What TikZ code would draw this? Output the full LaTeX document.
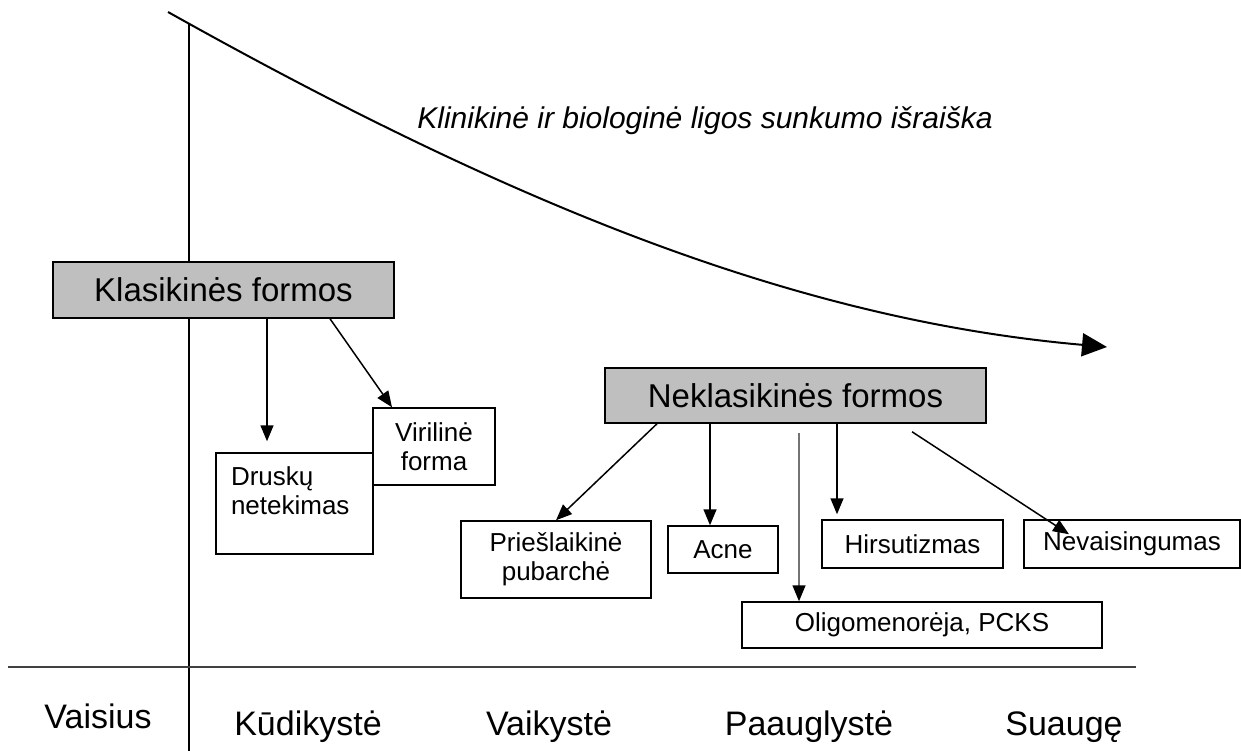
\documentclass[tikz,border=0pt]{standalone}
\usepackage{fontspec}
\setmainfont{Liberation Sans}
\usetikzlibrary{arrows.meta,positioning,calc}

\begin{document}
\begin{tikzpicture}[x=1pt,y=-1pt,
        box/.style={draw, line width=1.5pt, inner sep=0pt, align=center, font=\fontsize{26}{29}\selectfont},
        formbox/.style={draw, line width=1.5pt, fill=gray!50, inner sep=0pt, font=\fontsize{33}{38}\selectfont},
        arr/.style={-{Triangle[length=16pt,width=13pt]}, line width=1.5pt},
        age/.style={anchor=base, font=\fontsize{34}{40}\selectfont}]
        \useasboundingbox (0,0) rectangle (1241,751);

        % Axes
        \draw[line width=1.5pt] (189,23) -- (189,751);
        \draw[line width=2.5pt, black!75] (8,667) -- (1136,667);

        % Severity curve
        \coordinate (kstart) at (168,12);
        \coordinate (kend) at (1107,347);
        \draw[line width=2pt, -{Triangle[length=25pt,width=23pt]}] (kstart) .. controls (518,208) and (800,320) .. (kend);
        \node[anchor=base, font=\itshape\fontsize{30}{36}\selectfont] (sunkumas) at (705,129) {Klinikinė ir biologinė ligos sunkumo išraiška};

        % Classic forms
        \node[formbox, minimum width=341pt, minimum height=56pt] (klas) at (223.5,290) {Klasikinės formos};
        \node[box, minimum width=157pt, minimum height=101pt] (druskos) at (294.5,503.5) {};
        \node[box, draw=none, align=left, anchor=north west] (druskostxt) at ([xshift=15pt, yshift=-14pt]druskos.north west) {Druskų\\netekimas};
        \node[box, minimum width=122pt, minimum height=77pt] (viril) at (434,446.5) {Virilinė\\forma};

        \draw[arr] ([xshift=43.5pt]klas.south) -- ([xshift=-27.5pt, yshift=11pt]druskos.north);
        \draw[arr] ([xshift=106.5pt]klas.south) -- ([xshift=-42pt]viril.north);

        % Non-classic forms
        \node[formbox, minimum width=381pt, minimum height=55pt] (neklas) at (795.5,395.5) {Neklasikinės formos};
        \node[box, minimum width=190pt, minimum height=77pt] (pub) at (556,559.5) {Priešlaikinė\\pubarchė};
        \node[box, minimum width=110pt, minimum height=47pt] (acne) at (723,549.5) {Acne};
        \node[box, minimum width=181pt, minimum height=48pt] (hirs) at (912.5,544) {Hirsutizmas};
        \node[box, minimum width=216pt, minimum height=48pt] (nevais) at (1132,544) {Nevaisingumas};
        \node[box, minimum width=360pt, minimum height=46pt] (oligo) at (922,625) {Oligomenorėja, PCKS};

        \draw[arr] ([xshift=-138.5pt]neklas.south) -- (pub.north);
        \draw[arr] ([xshift=-85.5pt]neklas.south) -- ([xshift=-85.5pt]neklas.south |- acne.north);
        \draw[arr, black!55, -{Triangle[length=16pt,width=13pt,color=black]}] ([xshift=3.5pt, yshift=-9pt]neklas.south) -- ([xshift=3.5pt]neklas.south |- oligo.north);
        \draw[arr] ([xshift=41.5pt]neklas.south) -- ([xshift=41.5pt, yshift=5pt]neklas.south |- hirs.north);
        \draw[arr] ([xshift=116.5pt, yshift=-8pt]neklas.south) -- ([xshift=-63pt, yshift=-15pt]nevais.north);

        % Age periods
        \node[age] (vaisius) at (98,728) {Vaisius};
        \node[age] (kudikyste) at (308,735) {Kūdikystė};
        \node[age] (vaikyste) at (549,735) {Vaikystė};
        \node[age] (paauglyste) at (809,735) {Paauglystė};
        \node[age] (suauge) at (1064,735) {Suaugę};

    \end{tikzpicture}
\end{document}
